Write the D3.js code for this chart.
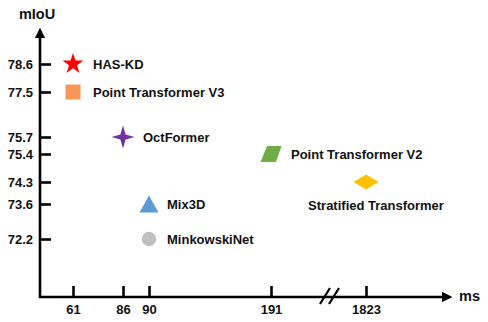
<!DOCTYPE html>
<html>
<head>
<meta charset="utf-8">
<script src="https://cdn.jsdelivr.net/npm/d3@7"></script>
<style>
  body { margin: 0; background: #fff; }
  text { font-family: "Liberation Sans", Arial, sans-serif; font-weight: bold; fill: #111; }
</style>
</head>
<body>
<div id="chart"></div>
<script>
// data
var models  = ["HAS-KD", "Point Transformer V3", "OctFormer", "Point Transformer V2",
               "Stratified Transformer", "Mix3D", "MinkowskiNet"];
var latency = [61, 61, 86, 191, 1823, 90, 90];
var miou    = [78.6, 77.5, 75.7, 75.4, 74.3, 73.6, 72.2];
var shapes  = ["star", "square", "spark", "para", "diamond", "triangle", "circle"];
var colors  = ["#ff0000", "#f79659", "#7030a0", "#70ad47", "#ffc000", "#5b9bd5", "#bfbfbf"];

var xTicks = [61, 86, 90, 191, 1823];
var yTicks = [72.2, 73.6, 74.3, 75.4, 75.7, 77.5, 78.6];

var width = 488, height = 322;
var x0 = 40, y0 = 297;

// schematic (broken) axes, so piecewise scales
var x = d3.scaleLinear()
    .domain(xTicks)
    .range([73, 123, 149, 271, 366]);
var y = d3.scaleLinear()
    .domain(yTicks)
    .range([239, 204, 182, 154, 137, 92, 64]);

var svg = d3.select("#chart").append("svg")
    .attr("width", width)
    .attr("height", height);

var defs = svg.append("defs");
defs.append("marker")
    .attr("id", "arrow")
    .attr("viewBox", "0 0 10 10")
    .attr("refX", 2).attr("refY", 5)
    .attr("markerWidth", 4).attr("markerHeight", 4)
    .attr("orient", "auto")
  .append("path")
    .attr("d", "M0,0L10,5L0,10Z")
    .attr("fill", "#000");

// axis lines
svg.append("line")
    .attr("x1", x0).attr("y1", y0 + 1)
    .attr("x2", x0).attr("y2", 36)
    .attr("stroke", "#000").attr("stroke-width", 2.6)
    .attr("marker-end", "url(#arrow)");
svg.append("line")
    .attr("x1", x0 - 1).attr("y1", y0)
    .attr("x2", 444).attr("y2", y0)
    .attr("stroke", "#000").attr("stroke-width", 2.6)
    .attr("marker-end", "url(#arrow)");

// y axis ticks
var gy = svg.append("g")
    .attr("transform", "translate(" + x0 + ",0)")
    .call(d3.axisLeft(y).tickValues(yTicks).tickSize(-11).tickPadding(7)
      .tickFormat(d3.format(".1f")));
gy.select(".domain").remove();
gy.selectAll(".tick line").attr("stroke", "#000").attr("stroke-width", 2.6);
gy.selectAll(".tick text").style("font-size", "13px").attr("fill", "#111");

// x axis ticks
var gx = svg.append("g")
    .attr("transform", "translate(0," + y0 + ")")
    .call(d3.axisBottom(x).tickValues(xTicks).tickSize(-11).tickPadding(8)
      .tickFormat(d3.format("d")));
gx.select(".domain").remove();
gx.selectAll(".tick line").attr("stroke", "#000").attr("stroke-width", 2.6);
gx.selectAll(".tick text").style("font-size", "13px").attr("fill", "#111");

// axis break
[0, 9].forEach(function(o) {
  svg.append("line")
    .attr("x1", 320 + o).attr("y1", y0 + 7)
    .attr("x2", 330 + o).attr("y2", y0 - 9)
    .attr("stroke", "#000").attr("stroke-width", 2.2);
});

// axis titles
svg.append("text").attr("x", 37).attr("y", 19)
    .attr("text-anchor", "middle").style("font-size", "14.5px").text("mIoU");
svg.append("text").attr("x", 459).attr("y", y0 + 4)
    .style("font-size", "14.5px").text("ms");

// marker shapes
var shapePath = {
  star: d3.symbol().type(d3.symbolStar).size(136)(),
  square: d3.symbol().type(d3.symbolSquare).size(225)(),
  circle: d3.symbol().type(d3.symbolCircle).size(165)(),
  spark: "M0,-11.5L2.6,-2.6L11.5,0L2.6,2.6L0,11.5L-2.6,2.6L-11.5,0L-2.6,-2.6Z",
  para: "M-4,-8L10.5,-8L5,8L-10.5,8Z",
  diamond: "M-12.5,0L0,-7.5L12.5,0L0,7.5Z",
  triangle: "M0,-8.5L9.5,8.5L-9.5,8.5Z"
};

var pts = models.map(function(m, i) {
  return {name: m, ms: latency[i], v: miou[i], shape: shapes[i], color: colors[i]};
});

svg.selectAll(".pt")
    .data(pts)
  .enter().append("path")
    .attr("class", "pt")
    .attr("transform", function(d) { return "translate(" + x(d.ms) + "," + y(d.v) + ")"; })
    .attr("d", function(d) { return shapePath[d.shape]; })
    .attr("fill", function(d) { return d.color; });

svg.selectAll(".lbl")
    .data(pts)
  .enter().append("text")
    .attr("class", "lbl")
    .style("font-size", "13px")
    .attr("x", function(d) {
      if (d.shape == "diamond") return x(d.ms) + 10;
      return x(d.ms) + (d.ms >= 90 && d.ms < 191 ? 18 : 20);
    })
    .attr("y", function(d) { return d.shape == "diamond" ? y(d.v) + 28 : y(d.v) + 4.5; })
    .attr("text-anchor", function(d) { return d.shape == "diamond" ? "middle" : "start"; })
    .text(function(d) { return d.name; });
</script>
</body>
</html>
